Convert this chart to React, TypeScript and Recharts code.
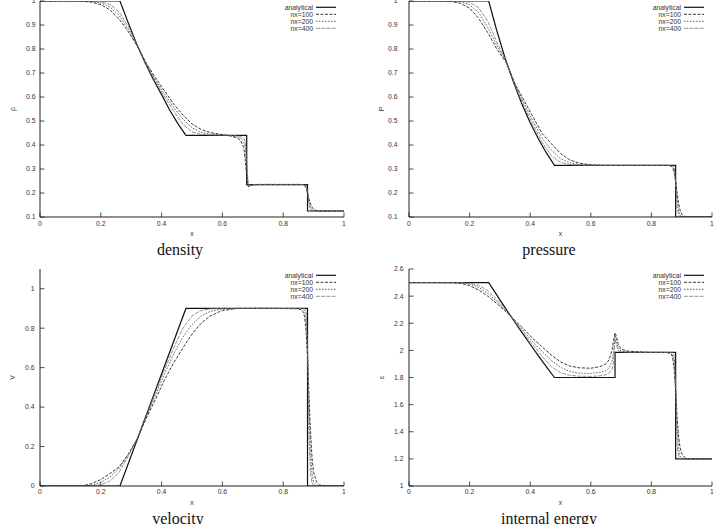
import React from 'react';
import { LineChart, Line, XAxis, YAxis, Legend } from 'recharts';

// ---------- shared x grids ----------
const gridA = [0, 0.1, 0.14, 0.17, 0.2, 0.23, 0.26, 0.29, 0.32, 0.35, 0.38, 0.41, 0.44, 0.47, 0.5, 0.53, 0.56, 0.6, 0.63, 0.65, 0.66, 0.67, 0.675, 0.68, 0.685, 0.69, 0.7, 0.72, 0.75, 0.8, 0.85, 0.865, 0.87, 0.875, 0.88, 0.885, 0.89, 0.895, 0.9, 0.91, 0.92, 0.95, 1];
const gridB = [0, 0.1, 0.14, 0.17, 0.2, 0.23, 0.26, 0.29, 0.32, 0.35, 0.38, 0.41, 0.44, 0.47, 0.5, 0.53, 0.56, 0.6, 0.65, 0.75, 0.85, 0.86, 0.865, 0.87, 0.875, 0.88, 0.885, 0.89, 0.895, 0.9, 0.91, 0.92, 0.95, 1];

const xTicks = [0, 0.2, 0.4, 0.6, 0.8, 1];
const seriesNames = ['analytical', 'nx=100', 'nx=200', 'nx=400'];

// ---------- density ----------
const densityExactX = [0, 0.263, 0.29, 0.317, 0.345, 0.372, 0.4, 0.426, 0.453, 0.48, 0.68, 0.68, 0.88, 0.88, 1];
const densityExact = [1, 1, 0.91, 0.824, 0.745, 0.675, 0.61, 0.547, 0.49, 0.44, 0.44, 0.235, 0.235, 0.125, 0.125];
const density100 = [1, 1, 0.999, 0.995, 0.985, 0.963, 0.925, 0.873, 0.812, 0.74, 0.68, 0.625, 0.57, 0.525, 0.488, 0.465, 0.452, 0.443, 0.437, 0.428, 0.418, 0.39, 0.34, 0.27, 0.226, 0.229, 0.234, 0.236, 0.236, 0.236, 0.236, 0.235, 0.232, 0.222, 0.2, 0.175, 0.155, 0.141, 0.133, 0.127, 0.125, 0.125, 0.125];
const density200 = [1, 1, 1, 0.998, 0.992, 0.975, 0.94, 0.883, 0.814, 0.737, 0.672, 0.612, 0.556, 0.508, 0.472, 0.453, 0.445, 0.441, 0.438, 0.433, 0.428, 0.415, 0.39, 0.3, 0.23, 0.23, 0.234, 0.235, 0.235, 0.235, 0.235, 0.235, 0.234, 0.228, 0.205, 0.165, 0.14, 0.13, 0.127, 0.125, 0.125, 0.125, 0.125];
const density400 = [1, 1, 1, 1, 0.997, 0.986, 0.955, 0.895, 0.815, 0.734, 0.665, 0.6, 0.541, 0.486, 0.455, 0.445, 0.442, 0.441, 0.44, 0.438, 0.435, 0.428, 0.415, 0.33, 0.235, 0.233, 0.235, 0.235, 0.235, 0.235, 0.235, 0.235, 0.235, 0.233, 0.21, 0.15, 0.13, 0.126, 0.125, 0.125, 0.125, 0.125, 0.125];
const densityTicks = [0.1, 0.2, 0.3, 0.4, 0.5, 0.6, 0.7, 0.8, 0.9, 1];

// ---------- pressure ----------
const pressureExactX = [0, 0.263, 0.29, 0.317, 0.345, 0.372, 0.4, 0.426, 0.453, 0.48, 0.88, 0.88, 1];
const pressureExact = [1, 1, 0.875, 0.763, 0.661, 0.573, 0.493, 0.428, 0.368, 0.315, 0.315, 0.1, 0.1];
const pressure100 = [1, 1, 0.998, 0.99, 0.97, 0.928, 0.868, 0.8, 0.745, 0.655, 0.585, 0.515, 0.447, 0.405, 0.365, 0.338, 0.325, 0.317, 0.315, 0.315, 0.315, 0.314, 0.312, 0.305, 0.285, 0.25, 0.2, 0.155, 0.127, 0.112, 0.103, 0.1, 0.1, 0.1];
const pressure200 = [1, 1, 1, 0.997, 0.985, 0.952, 0.89, 0.815, 0.748, 0.652, 0.572, 0.497, 0.428, 0.378, 0.343, 0.326, 0.319, 0.316, 0.315, 0.315, 0.315, 0.315, 0.315, 0.312, 0.298, 0.25, 0.17, 0.125, 0.108, 0.102, 0.1, 0.1, 0.1, 0.1];
const pressure400 = [1, 1, 1, 1, 0.995, 0.972, 0.915, 0.83, 0.75, 0.648, 0.56, 0.482, 0.41, 0.355, 0.328, 0.319, 0.316, 0.315, 0.315, 0.315, 0.315, 0.315, 0.315, 0.315, 0.31, 0.24, 0.14, 0.108, 0.101, 0.1, 0.1, 0.1, 0.1, 0.1];
const pressureTicks = [0.1, 0.2, 0.3, 0.4, 0.5, 0.6, 0.7, 0.8, 0.9, 1];

// ---------- velocity ----------
const velocityExactX = [0, 0.263, 0.48, 0.88, 0.88, 1];
const velocityExact = [0, 0, 0.9, 0.9, 0, 0];
const velocity100 = [0, 0, 0.001, 0.012, 0.033, 0.063, 0.097, 0.16, 0.24, 0.345, 0.44, 0.54, 0.625, 0.7, 0.77, 0.825, 0.862, 0.89, 0.9, 0.901, 0.898, 0.893, 0.885, 0.86, 0.79, 0.66, 0.45, 0.27, 0.14, 0.07, 0.02, 0.005, 0, 0];
const velocity200 = [0, 0, 0, 0.004, 0.018, 0.045, 0.088, 0.158, 0.24, 0.352, 0.46, 0.57, 0.67, 0.755, 0.818, 0.862, 0.885, 0.897, 0.9, 0.9, 0.9, 0.899, 0.897, 0.89, 0.85, 0.68, 0.38, 0.16, 0.06, 0.02, 0.003, 0, 0, 0];
const velocity400 = [0, 0, 0, 0, 0.006, 0.025, 0.068, 0.15, 0.24, 0.357, 0.475, 0.592, 0.7, 0.8, 0.862, 0.89, 0.898, 0.9, 0.9, 0.9, 0.9, 0.9, 0.9, 0.9, 0.89, 0.7, 0.25, 0.06, 0.015, 0.003, 0, 0, 0, 0];
const velocityTicks = [0, 0.2, 0.4, 0.6, 0.8, 1];

// ---------- internal energy ----------
const energyExactX = [0, 0.263, 0.29, 0.317, 0.345, 0.372, 0.4, 0.426, 0.453, 0.48, 0.68, 0.68, 0.88, 0.88, 1];
const energyExact = [2.5, 2.5, 2.407, 2.315, 2.222, 2.134, 2.045, 1.963, 1.88, 1.8, 1.8, 1.985, 1.985, 1.2, 1.2];
const energy100 = [2.5, 2.5, 2.499, 2.495, 2.478, 2.445, 2.4, 2.345, 2.285, 2.22, 2.155, 2.085, 2.025, 1.965, 1.915, 1.885, 1.872, 1.868, 1.88, 1.9, 1.93, 2.0, 2.07, 2.13, 2.1, 2.05, 2.01, 1.995, 1.99, 1.985, 1.985, 1.975, 1.95, 1.86, 1.7, 1.5, 1.36, 1.28, 1.24, 1.21, 1.2, 1.2, 1.2];
const energy200 = [2.5, 2.5, 2.5, 2.498, 2.49, 2.465, 2.42, 2.36, 2.292, 2.215, 2.138, 2.06, 1.99, 1.925, 1.875, 1.845, 1.832, 1.83, 1.838, 1.85, 1.87, 1.92, 1.99, 2.11, 2.07, 2.02, 1.995, 1.988, 1.985, 1.985, 1.985, 1.983, 1.97, 1.92, 1.72, 1.42, 1.27, 1.22, 1.205, 1.2, 1.2, 1.2, 1.2];
const energy400 = [2.5, 2.5, 2.5, 2.5, 2.495, 2.48, 2.44, 2.375, 2.298, 2.21, 2.122, 2.037, 1.955, 1.88, 1.835, 1.817, 1.81, 1.808, 1.812, 1.82, 1.83, 1.86, 1.91, 2.08, 2.04, 2.0, 1.99, 1.986, 1.985, 1.985, 1.985, 1.985, 1.985, 1.97, 1.75, 1.3, 1.21, 1.2, 1.2, 1.2, 1.2, 1.2, 1.2];
const energyTicks = [1, 1.2, 1.4, 1.6, 1.8, 2, 2.2, 2.4, 2.6];

// ---------- styles ----------
const SANS = '"Liberation Sans", Arial, Helvetica, sans-serif';
const SERIF = '"Liberation Serif", "Times New Roman", serif';
const TICK_LEN = 4.5;
const FS = 6.8;
const lineStyles: Record<string, { stroke: string; width: number; dash?: string }> = {
  'analytical': { stroke: '#111', width: 1.2 },
  'nx=100': { stroke: '#222', width: 0.9, dash: '3 1.5' },
  'nx=200': { stroke: '#333', width: 0.8, dash: '1.5 1.5' },
  'nx=400': { stroke: '#777', width: 0.8, dash: '4 1.2' },
};

const zip = (xs: number[], ys: number[]) => xs.map((x, i) => ({ x, y: ys[i] }));

type PanelCfg = {
  left: number; top: number; width: number; height: number;
  plotLeft: number; plotTop: number; plotRight: number; plotBottom: number;
  yGap: number; xGap: number;
  yDomain: [number, number]; yTicks: number[];
  series: { name: string; data: { x: number; y: number }[] }[];
};

const fmt = (v: number) => String(v);

function Panel(c: PanelCfg) {
  const leftTick = (p: any) => (
    <g>
      <line x1={p.x + c.yGap} x2={p.x + c.yGap + TICK_LEN} y1={p.y} y2={p.y} stroke="#222" strokeWidth={0.8} />
      <text x={p.x} y={p.y} dy="0.35em" textAnchor="end" fontSize={FS} fontFamily={SANS} fill="#333">{fmt(p.payload.value)}</text>
    </g>
  );
  const rightTick = (p: any) => (
    <line x1={p.x - TICK_LEN} x2={p.x} y1={p.y} y2={p.y} stroke="#222" strokeWidth={0.8} />
  );
  const bottomTick = (p: any) => (
    <g>
      <line x1={p.x} x2={p.x} y1={p.y - c.xGap} y2={p.y - c.xGap - TICK_LEN} stroke="#222" strokeWidth={0.8} />
      <text x={p.x} y={p.y} dy="0.35em" textAnchor="middle" fontSize={FS} fontFamily={SANS} fill="#333">{fmt(p.payload.value)}</text>
    </g>
  );
  const topTick = (p: any) => (
    <line x1={p.x} x2={p.x} y1={p.y} y2={p.y + TICK_LEN} stroke="#222" strokeWidth={0.8} />
  );
  const legendW = 109;
  const renderLegend = (props: any) => {
    const items: any[] = props.payload || [];
    return (
      <svg width={legendW} height={32} style={{ display: 'block' }}>
        {items.map((it, i) => {
          const st = lineStyles[it.value] || lineStyles['analytical'];
          const yy = 6.3 + 7 * i;
          return (
            <g key={it.value}>
              <text x={legendW - 31} y={yy} dy="0.35em" textAnchor="end" fontSize={FS} fontFamily={SANS} fill="#333">{it.value}</text>
              <line x1={legendW - 28} x2={legendW - 8} y1={yy} y2={yy} stroke={st.stroke} strokeWidth={st.width} strokeDasharray={st.dash} />
            </g>
          );
        })}
      </svg>
    );
  };
  return (
    <div style={{ position: 'absolute', left: c.left, top: c.top }}>
      <LineChart
        width={c.width}
        height={c.height}
        margin={{ top: c.plotTop, right: c.width - c.plotRight, left: 0, bottom: 0 }}
      >
        <XAxis
          type="number" dataKey="x" domain={[0, 1]} ticks={xTicks} allowDataOverflow
          height={c.height - c.plotBottom} tickSize={0} tickMargin={c.xGap} tickLine={false}
          axisLine={{ stroke: '#222', strokeWidth: 1 }} tick={bottomTick} interval={0}
        />
        <XAxis
          xAxisId="top" orientation="top" type="number" dataKey="x" domain={[0, 1]} ticks={xTicks} allowDataOverflow
          height={0} tickSize={0} tickMargin={0} tickLine={false}
          axisLine={{ stroke: '#222', strokeWidth: 1 }} tick={topTick} interval={0}
        />
        <YAxis
          type="number" domain={c.yDomain} ticks={c.yTicks} allowDataOverflow
          width={c.plotLeft} tickSize={0} tickMargin={c.yGap} tickLine={false}
          axisLine={{ stroke: '#222', strokeWidth: 1 }} tick={leftTick} interval={0}
        />
        <YAxis
          yAxisId="right" orientation="right" type="number" domain={c.yDomain} ticks={c.yTicks} allowDataOverflow
          width={0} tickSize={0} tickMargin={0} tickLine={false}
          axisLine={{ stroke: '#222', strokeWidth: 1 }} tick={rightTick} interval={0}
        />
        <Legend
          layout="vertical" align="center" verticalAlign="middle"
          content={renderLegend}
          wrapperStyle={{ left: c.plotRight - legendW, top: c.plotTop, width: legendW, height: 32 }}
        />
        {c.series.map((s) => {
          const st = lineStyles[s.name];
          return (
            <Line
              key={s.name}
              name={s.name}
              data={s.data}
              dataKey="y"
              type="linear"
              stroke={st.stroke}
              strokeWidth={st.width}
              strokeDasharray={st.dash}
              dot={false}
              activeDot={false}
              isAnimationActive={false}
            />
          );
        })}
      </LineChart>
    </div>
  );
}

const panels: (PanelCfg & { yLabel: string; caption: string; capX: number; capY: number; xLabelDy: number })[] = [
  {
    left: 0, top: 0, width: 360, height: 262, plotLeft: 40, plotTop: 1, plotRight: 344, plotBottom: 217,
    yGap: 4.5, xGap: 7, yDomain: [0.1, 1], yTicks: densityTicks,
    series: [
      { name: seriesNames[0], data: zip(densityExactX, densityExact) },
      { name: seriesNames[1], data: zip(gridA, density100) },
      { name: seriesNames[2], data: zip(gridA, density200) },
      { name: seriesNames[3], data: zip(gridA, density400) },
    ],
    yLabel: 'ρ', caption: 'density', capX: 180, capY: 255, xLabelDy: 17,
  },
  {
    left: 360, top: 0, width: 359, height: 262, plotLeft: 49, plotTop: 1, plotRight: 352, plotBottom: 217,
    yGap: 11.5, xGap: 7, yDomain: [0.1, 1], yTicks: pressureTicks,
    series: [
      { name: seriesNames[0], data: zip(pressureExactX, pressureExact) },
      { name: seriesNames[1], data: zip(gridB, pressure100) },
      { name: seriesNames[2], data: zip(gridB, pressure200) },
      { name: seriesNames[3], data: zip(gridB, pressure400) },
    ],
    yLabel: 'P', caption: 'pressure', capX: 549, capY: 255, xLabelDy: 17,
  },
  {
    left: 0, top: 262, width: 360, height: 262, plotLeft: 40, plotTop: 7, plotRight: 344, plotBottom: 224,
    yGap: 5.5, xGap: 6, yDomain: [0, 1.1], yTicks: velocityTicks,
    series: [
      { name: seriesNames[0], data: zip(velocityExactX, velocityExact) },
      { name: seriesNames[1], data: zip(gridB, velocity100) },
      { name: seriesNames[2], data: zip(gridB, velocity200) },
      { name: seriesNames[3], data: zip(gridB, velocity400) },
    ],
    yLabel: 'V', caption: 'velocity', capX: 178, capY: 524, xLabelDy: 16.7,
  },
  {
    left: 360, top: 262, width: 359, height: 262, plotLeft: 49, plotTop: 7, plotRight: 352, plotBottom: 224,
    yGap: 5.5, xGap: 6, yDomain: [1, 2.6], yTicks: energyTicks,
    series: [
      { name: seriesNames[0], data: zip(energyExactX, energyExact) },
      { name: seriesNames[1], data: zip(gridA, energy100) },
      { name: seriesNames[2], data: zip(gridA, energy200) },
      { name: seriesNames[3], data: zip(gridA, energy400) },
    ],
    yLabel: 'ε', caption: 'internal energy', capX: 549, capY: 524, xLabelDy: 16.7,
  },
];

export default function App() {
  return (
    <div style={{ position: 'absolute', left: 0, top: 0, width: 719, height: 524, overflow: 'hidden', background: '#fff' }}>
      {panels.map((p) => (
        <Panel key={p.caption} {...p} />
      ))}
      <svg width={719} height={524} style={{ position: 'absolute', left: 0, top: 0, pointerEvents: 'none' }}>
        {panels.map((p) => {
          const cx = p.left + (p.plotLeft + p.plotRight) / 2;
          const ly = p.top + (p.plotTop + p.plotBottom) / 2;
          const lx = p.left + p.plotLeft - 27.5;
          return (
            <g key={p.caption}>
              <text x={cx} y={p.top + p.plotBottom + p.xLabelDy} dy="0.35em" textAnchor="middle" fontSize={FS} fontFamily={SANS} fill="#333">x</text>
              <text x={lx} y={ly} dy="0.35em" textAnchor="middle" fontSize={FS} fontFamily={SANS} fill="#333" transform={`rotate(-90 ${lx} ${ly})`}>{p.yLabel}</text>
              <text x={p.capX} y={p.capY} textAnchor="middle" fontSize={16} fontFamily={SERIF} fill="#111">{p.caption}</text>
            </g>
          );
        })}
      </svg>
    </div>
  );
}
